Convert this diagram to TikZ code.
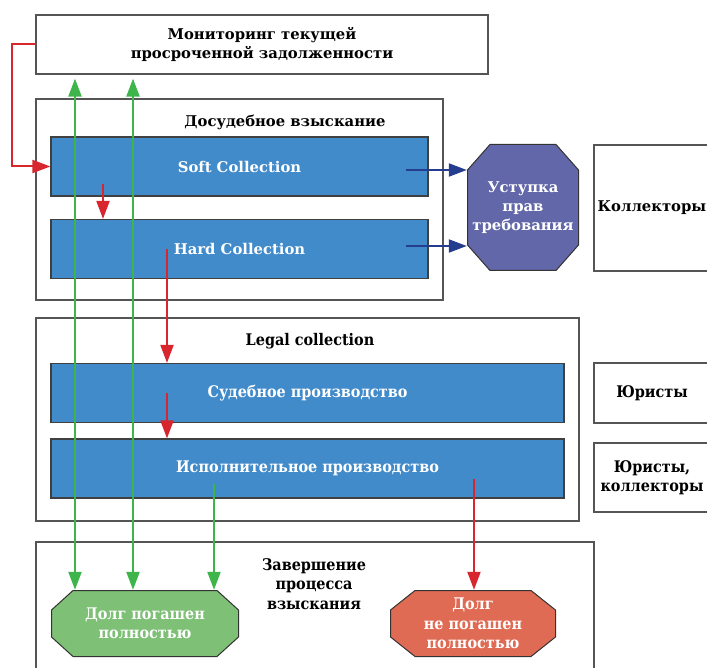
\documentclass[tikz,border=0pt]{standalone}
\usepackage{fontspec}
\setmainfont{DejaVu Serif}
\newfontfamily\condfont{DejaVu Serif Condensed}
\usetikzlibrary{arrows.meta,calc}

\definecolor{boxblue}{RGB}{66,139,202}
\definecolor{octviolet}{RGB}{97,103,168}
\definecolor{octgreen}{RGB}{125,192,118}
\definecolor{octred}{RGB}{224,107,85}
\definecolor{linegreen}{RGB}{61,181,74}
\definecolor{linered}{RGB}{215,38,46}
\definecolor{lineblue}{RGB}{37,61,143}
\definecolor{edgegray}{RGB}{85,85,85}

\tikzset{
  boldtext/.style={font=\bfseries\fontsize{14.8}{19}\selectfont},
  condtext/.style={font=\condfont\bfseries\fontsize{16}{19.5}\selectfont},
  frame/.style={draw=edgegray, line width=1.2pt, fill=white, inner sep=0pt, align=center},
  stage/.style={draw=black!75, line width=1.2pt, fill=boxblue, text=white, inner sep=0pt, minimum width=513pt, minimum height=59pt},
  octa/.style n args={3}{inner sep=0pt, align=center, text=white,
    path picture={\draw [draw=black!80, line width=1pt, fill=#1]
      ([shift={(#2pt,-0.5pt)}]path picture bounding box.north west) --
      ([shift={(-#2pt,-0.5pt)}]path picture bounding box.north east) --
      ([shift={(-0.5pt,-#3pt)}]path picture bounding box.north east) --
      ([shift={(-0.5pt,#3pt)}]path picture bounding box.south east) --
      ([shift={(-#2pt,0.5pt)}]path picture bounding box.south east) --
      ([shift={(#2pt,0.5pt)}]path picture bounding box.south west) --
      ([shift={(0.5pt,#3pt)}]path picture bounding box.south west) --
      ([shift={(0.5pt,-#3pt)}]path picture bounding box.north west) -- cycle;}},
  tip/.style={-{Triangle[length=18pt,width=13pt]}},
  redarrow/.style={draw=linered, line width=2pt, tip},
  bluearrow/.style={draw=lineblue, line width=2pt, tip},
  greenarrow/.style={draw=linegreen, line width=2.2pt, tip},
  greenboth/.style={draw=linegreen, line width=2.2pt, {Triangle[length=18pt,width=13pt]}-{Triangle[length=18pt,width=13pt]}}
}

\begin{document}
\begin{tikzpicture}[x=1pt, y=-1pt]
\useasboundingbox (0,0) rectangle (707,668);
\clip (0,0) rectangle (707,668);

\node [frame, boldtext, minimum width=452pt, minimum height=59pt] (mon) at (262,44.5) {Мониторинг текущей\\просроченной задолженности};

\node [frame, minimum width=407pt, minimum height=201pt] (dosud) at (239.5,199.5) {};
\node [boldtext] (dosudtitle) at (285,122) {Досудебное взыскание};
\node [stage, boldtext, minimum width=377pt] (soft) at (239.5,166.5) {Soft Collection};
\node [stage, boldtext, minimum width=377pt] (hard) at (239.5,249) {Hard Collection};
\node [octa={octviolet}{23}{26}, boldtext, minimum width=112pt, minimum height=127pt] (ustup) at (523,207.5) {Уступка\\прав\\требования};
\node [frame, boldtext, minimum width=116pt, minimum height=126pt] (kol) at (652,208) {Коллекторы};

\node [frame, minimum width=543pt, minimum height=203pt] (legal) at (307.5,419.5) {};
\node [condtext] (legaltitle) at (310,341) {Legal collection};
\node [stage, condtext] (sud) at (307.5,393) {Судебное производство};
\node [stage, condtext] (isp) at (307.5,468.5) {Исполнительное производство};
\node [frame, condtext, minimum width=116pt, minimum height=60pt] (jur) at (652,393) {Юристы};
\node [frame, condtext, minimum width=116pt, minimum height=69pt] (jurkol) at (652,477.5) {Юристы,\\коллекторы};

\node [frame, minimum width=558pt, minimum height=140pt] (final) at (315,612) {};
\node [condtext, align=center] (finaltitle) at (314,584) {Завершение\\процесса\\взыскания};
\node [octa={octgreen}{22}{20}, condtext, minimum width=188pt, minimum height=67pt] (paid) at (145,623.5) {Долг погашен\\полностью};
\node [octa={octred}{25}{20}, condtext, minimum width=166pt, minimum height=67pt] (unpaid) at (473,623.5) {Долг\\не погашен\\полностью};

\coordinate (xa) at (75,0);
\coordinate (xb) at (133,0);
\coordinate (xc) at (214,0);
\coordinate (xd) at (474,0);
\coordinate (xe) at (103,0);
\coordinate (xf) at (167,0);
\coordinate (xg) at (406,0);

\draw [redarrow] (mon.west) -- ++(-23,0) |- (soft.west);
\draw [redarrow] ($(xe |- soft.south)+(0,-13)$) -- (xe |- hard.north);
\draw [redarrow] (xf |- hard.center) -- (xf |- sud.north);
\draw [redarrow] (xf |- sud.center) -- (xf |- isp.north);
\draw [redarrow] ($(xd |- isp.center)+(0,10)$) -- (xd |- unpaid.north);
\draw [bluearrow] ($(xg |- soft.center)+(0,3.5)$) -- ($(ustup.west |- soft.center)+(0,3.5)$);
\draw [bluearrow] ($(xg |- hard.center)+(0,-3)$) -- ($(ustup.west |- hard.center)+(0,-3)$);
\draw [greenboth, shorten <=4pt] (xa |- mon.south) -- (xa |- paid.north);
\draw [greenboth, shorten <=4pt] (xb |- mon.south) -- (xb |- paid.north);
\draw [greenarrow] ($(xc |- isp.center)+(0,15.5)$) -- (xc |- paid.north);
\end{tikzpicture}
\end{document}
